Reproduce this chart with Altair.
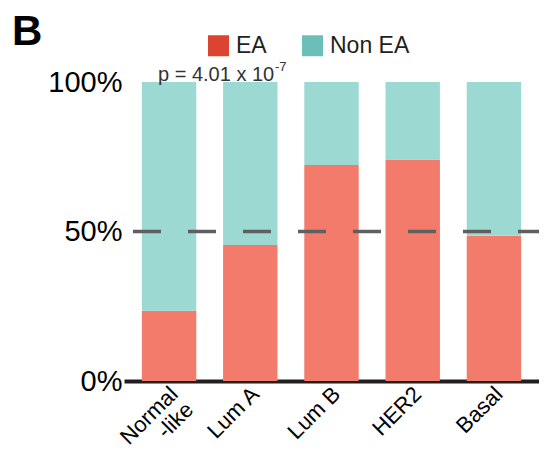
import altair as alt
import pandas as pd

categories = ["Normal-like", "Lum A", "Lum B", "HER2", "Basal"]
groups = ["EA", "Non EA"]
ea_pct = [23.5, 45.5, 72.2, 74.1, 48.6]
non_ea_pct = [76.5, 54.5, 27.8, 25.9, 51.4]
bar_colors = ["#F27B6B", "#9CD9D3"]
legend_colors = ["#DB4430", "#6CBFB8"]
y_ticks = [0, 50, 100]
p_main = "p = 4.01 x 10"
p_sup = "-7"
panel_label = "B"

rows = []
for i, c in enumerate(categories):
    rows.append({"subtype": c, "group": "EA", "pct": ea_pct[i], "ord": 0})
    rows.append({"subtype": c, "group": "Non EA", "pct": non_ea_pct[i], "ord": 1})
df = pd.DataFrame(rows)

FONT = "Liberation Sans"

xscale = alt.Scale(domain=categories, paddingInner=0.33, paddingOuter=0.22)
xaxis = alt.Axis(
    title=None, labelAngle=-45, labelAlign="right", labelBaseline="top",
    labelFontSize=22, labelFont=FONT, labelColor="#000000", labelPadding=2,
    labelOffset=-2,
    ticks=False, tickSize=0, domainColor="#231F20", domainWidth=4,
    labelExpr="datum.label == 'Normal-like' ? ['Normal', '-like'] : datum.label",
    labelLineHeight=22,
)
yscale = alt.Scale(domain=[0, 100], nice=False)
yaxis = alt.Axis(
    title=None, values=y_ticks, labelExpr="datum.value + '%'",
    labelFontSize=29, labelFont=FONT, labelColor="#000000", labelPadding=2,
    ticks=False, tickSize=0, domain=False, grid=False,
)

legend_layer = alt.Chart(df).mark_square(size=4, opacity=1).encode(
    x=alt.X("subtype:N", scale=xscale, axis=xaxis, sort=categories),
    y=alt.datum(10),
    color=alt.Color(
        "group:N",
        scale=alt.Scale(domain=groups, range=legend_colors),
        legend=alt.Legend(
            title=None, orient="none", direction="horizontal",
            legendX=83, legendY=-48, padding=0,
            symbolType="square", symbolSize=441, symbolStrokeWidth=0,
            symbolOpacity=1, labelFontSize=23, labelFont=FONT,
            labelColor="#231F20", labelOffset=6, columnPadding=34,
        ),
    ),
)

bars = alt.Chart(df).mark_bar(strokeWidth=0).encode(
    x=alt.X("subtype:N", scale=xscale, axis=xaxis, sort=categories),
    y=alt.Y("pct:Q", stack="zero", scale=yscale, axis=yaxis),
    fill=alt.Fill("group:N", scale=alt.Scale(domain=groups, range=bar_colors), legend=None),
    order=alt.Order("ord:Q", sort="ascending"),
)

rule = alt.Chart(pd.DataFrame({"v": [50]})).mark_rule(
    color="#5F5F5F", strokeWidth=3.5, strokeDash=[28, 27]
).encode(
    y=alt.Y("v:Q", scale=yscale),
    x=alt.value(9), x2=alt.value(423),
)

ptext = alt.Chart(pd.DataFrame({"t": [p_main]})).mark_text(
    align="left", baseline="alphabetic", fontSize=20, font=FONT, color="#333333", dy=-1
).encode(text="t:N", x=alt.value(34), y=alt.datum(100))

psup = alt.Chart(pd.DataFrame({"t": [p_sup]})).mark_text(
    align="left", baseline="alphabetic", fontSize=13, font=FONT, color="#333333", dy=-11
).encode(text="t:N", x=alt.value(151), y=alt.datum(100))

blabel = alt.Chart(pd.DataFrame({"t": [panel_label]})).mark_text(
    align="left", baseline="alphabetic", fontSize=42, font=FONT, fontWeight="bold", color="#000000"
).encode(text="t:N", x=alt.value(-112), y=alt.value(-37))

chart = alt.layer(legend_layer, bars, rule, ptext, psup, blabel).properties(
    width=415, height=299,
    autosize=alt.AutoSizeParams(type="none"),
    padding={"left": 116, "top": 74, "right": 0, "bottom": 67},
).configure_view(stroke=None).resolve_scale(color="independent")

chart.save("out.html", embed_options={"renderer": "svg", "actions": False})
